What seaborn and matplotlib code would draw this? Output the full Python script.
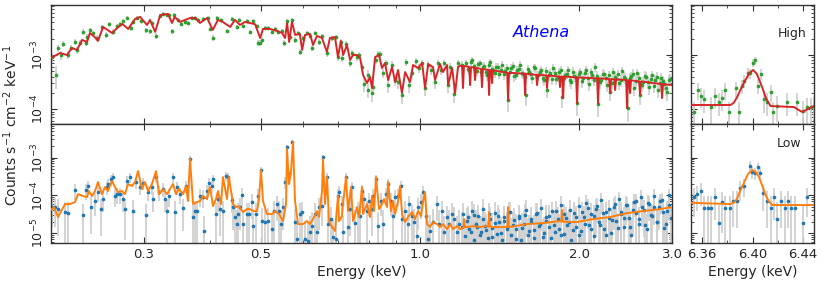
import matplotlib

matplotlib.use("Agg")
import matplotlib.pyplot as plt
import matplotlib.ticker as mticker
import numpy as np
import seaborn as sns

# ---- upper spectrum ("High"), flux in units of 1e-4 counts/s/cm2/keV ----
HI_MODEL_E = [
    0.200, 0.208, 0.2145, 0.219, 0.224, 0.229, 0.234, 0.237, 0.242, 0.2455,
    0.251, 0.256, 0.261, 0.267, 0.273, 0.280, 0.2885, 0.295, 0.304, 0.308,
    0.315, 0.322, 0.333, 0.339, 0.343, 0.351, 0.359, 0.367, 0.375, 0.383,
    0.395, 0.405, 0.414, 0.423, 0.437, 0.446, 0.456, 0.466, 0.476, 0.487,
    0.498, 0.504, 0.520, 0.536, 0.548, 0.555, 0.560, 0.565, 0.572, 0.580,
    0.592, 0.598, 0.6055, 0.619, 0.627, 0.638, 0.652, 0.666, 0.675, 0.690,
    0.699, 0.708, 0.715, 0.727, 0.737, 0.7465, 0.760, 0.770, 0.780, 0.7935,
    0.804, 0.811, 0.822, 0.836, 0.847, 0.858, 0.870, 0.885, 0.897, 0.9085,
    0.924, 0.937, 0.957, 0.970, 0.991, 1.009, 1.022, 1.036, 1.058, 1.0675,
    1.091, 1.105, 1.125, 1.130, 1.150, 1.165, 1.180, 1.196,
    1.201, 1.206, 1.211, 1.239, 1.244, 1.249, 1.266, 1.271, 1.276,
    1.305, 1.310, 1.315, 1.346, 1.351, 1.356, 1.364, 1.369, 1.374,
    1.462, 1.468, 1.474, 1.575, 1.581, 1.587, 1.659, 1.666, 1.673,
    1.733, 1.740, 1.747, 1.834, 1.841, 1.848, 1.859, 1.866, 1.873,
    1.975, 1.983, 1.991, 2.164, 2.173, 2.182, 2.281, 2.290, 2.299,
    2.332, 2.341, 2.350, 2.456, 2.466, 2.476, 2.489, 2.499, 2.509,
    2.600, 2.610, 2.620, 2.862, 2.873, 2.884, 3.000,
]
HI_MODEL_F = [
    8.80, 10.9, 10.0, 13.5, 12.4, 19.0, 17.4, 25.5, 21.5, 18.2,
    33.0, 29.0, 25.5, 31.6, 37.5, 30.3, 46.4, 50.6, 35.9, 44.5,
    26.7, 55.0, 57.4, 39.1, 50.6, 40.8, 44.5, 48.4, 48.4, 39.1,
    48.4, 29.0, 44.5, 40.8, 33.0, 44.5, 35.9, 40.8, 39.1, 37.0,
    20.6, 30.3, 30.3, 27.8, 25.5, 20.6, 39.1, 17.4, 40.8, 23.5,
    24.5, 12.4, 23.5, 24.5, 15.3, 22.5, 20.6, 11.4, 20.6, 21.5,
    9.18, 18.2, 10.0, 15.3, 8.08, 10.0, 10.0, 8.80, 4.26, 3.03,
    3.92, 2.45, 9.18, 10.0, 5.74, 7.11, 3.44, 6.00, 3.16, 5.27,
    1.98, 4.84, 3.16, 6.53, 5.74, 7.11, 2.45, 6.81, 6.00, 3.44,
    6.81, 4.84, 6.53, 2.78, 5.74, 1.98, 6.00, 6.40,
    6.3, 2.45, 6.3, 6.0, 2.78, 6.0, 5.8, 3.44, 5.8,
    5.5, 2.55, 5.5, 5.3, 1.82, 5.3, 5.2, 3.03, 5.2,
    4.7, 1.47, 4.7, 4.5, 1.82, 4.5, 4.3, 2.78, 4.3,
    4.2, 2.45, 4.2, 4.0, 2.55, 4.0, 4.0, 1.60, 4.0,
    3.85, 1.29, 3.85, 3.7, 1.29, 3.7, 3.6, 1.98, 3.6,
    3.55, 2.25, 3.55, 3.45, 1.04, 3.45, 3.4, 1.98, 3.4,
    3.25, 1.82, 3.25, 2.9, 1.60, 2.9, 2.78,
]
HI_E = [
    0.2009, 0.2044, 0.2062, 0.2089, 0.2107, 0.2154, 0.2182, 0.2221, 0.2240, 0.2270,
    0.2300, 0.2330, 0.2340, 0.2371, 0.2402, 0.2444, 0.2498, 0.2542, 0.2576, 0.2621,
    0.2667, 0.2702, 0.2738, 0.2786, 0.2835, 0.2860, 0.2910, 0.2961, 0.3027, 0.3080,
    0.3107, 0.3161, 0.3217, 0.3259, 0.3317, 0.3346, 0.3390, 0.3420, 0.3480, 0.3526,
    0.3588, 0.3635, 0.3699, 0.3748, 0.3797, 0.3881, 0.3966, 0.4001, 0.4054, 0.4125,
    0.4198, 0.4308, 0.4403, 0.4500, 0.4540, 0.4620, 0.4701, 0.4763, 0.4826, 0.4911,
    0.4932, 0.4976, 0.5020, 0.5086, 0.5152, 0.5243, 0.5312, 0.5382, 0.5477, 0.5525,
    0.5598, 0.5672, 0.5721, 0.5797, 0.5873, 0.5924, 0.6002, 0.6108, 0.6188, 0.6242,
    0.6324, 0.6436, 0.6521, 0.6664, 0.6811, 0.6931, 0.6992, 0.7084, 0.7115, 0.7240,
    0.7368, 0.7432, 0.7597, 0.7663, 0.7764, 0.7832, 0.7969, 0.7975, 0.8110, 0.8145,
    0.8252, 0.8324, 0.8397, 0.8507, 0.8619, 0.8697, 0.8850, 0.8966, 0.9085, 0.9244,
    0.9407, 0.9531, 0.9657, 0.9827, 0.9957, 1.0087, 1.0220, 1.0355, 1.0491, 1.0675,
    1.0816, 1.0958, 1.1103, 1.1298, 1.1397, 1.1599, 1.1802, 1.2010, 1.2220, 1.2381,
    1.2544, 1.2709, 1.2876, 1.3046, 1.3218, 1.3392, 1.3568, 1.3747, 1.3928, 1.4111,
    1.4297, 1.4485, 1.4676, 1.4869, 1.5065, 1.5263, 1.5464, 1.5668, 1.5874, 1.6083,
    1.6295, 1.6509, 1.6727, 1.6947, 1.7170, 1.7396, 1.7625, 1.7857, 1.8093, 1.8331,
    1.8572, 1.8817, 1.9064, 1.9315, 1.9570, 1.9827, 2.0088, 2.0353, 2.0621, 2.0892,
    2.1167, 2.1446, 2.1728, 2.2014, 2.2304, 2.2598, 2.2895, 2.3197, 2.3502, 2.3812,
    2.4125, 2.4443, 2.4765, 2.5091, 2.5421, 2.5756, 2.6095, 2.6439, 2.6787, 2.7140,
    2.7497, 2.7859, 2.8226, 2.8598, 2.8974, 2.9356, 2.9742,
    # dense band above 1.2 keV
    1.2300, 1.2462, 1.2626, 1.2792, 1.2961, 1.3132, 1.3305, 1.3480, 1.3657, 1.3837,
    1.4019, 1.4204, 1.4391, 1.4580, 1.4772, 1.4967, 1.5164, 1.5363, 1.5565, 1.5771,
    1.5978, 1.6189, 1.6402, 1.6617, 1.6837, 1.7058, 1.7283, 1.7510, 1.7741, 1.7974,
    1.8212, 1.8451, 1.8694, 1.8940, 1.9189, 1.9442, 1.9698, 1.9957, 2.0220, 2.0487,
    2.0756, 2.1029, 2.1306, 2.1587, 2.1871, 2.2158, 2.2450, 2.2746, 2.3045, 2.3349,
    2.3656, 2.3968, 2.4283, 2.4603, 2.4928, 2.5256, 2.5588, 2.5925, 2.6266, 2.6613,
    2.6963, 2.7318, 2.7677, 2.8042, 2.8411, 2.8786, 2.9164, 2.9549,
]
HI_F = [
    9.18, 4.26, 13.5, 10.0, 16.0, 10.0, 13.5, 17.4, 12.4, 16.7,
    26.7, 16.7, 21.5, 29.0, 25.5, 20.6, 33.0, 23.5, 37.5, 26.7,
    34.5, 37.5, 42.6, 48.4, 31.6, 40.8, 48.4, 42.6, 29.0, 27.8,
    39.1, 22.5, 52.7, 57.4, 55.0, 55.0, 27.8, 55.0, 44.5, 37.5,
    40.8, 39.1, 48.4, 48.4, 44.5, 46.4, 48.4, 30.3, 20.6, 48.4,
    44.5, 27.8, 46.4, 33.0, 44.5, 34.5, 42.6, 26.7, 42.6, 34.5,
    16.7, 16.7, 19.0, 31.6, 31.6, 26.7, 30.3, 26.7, 27.8, 16.7,
    42.6, 21.5, 44.5, 19.0, 25.5, 11.4, 20.6, 25.5, 22.5, 13.5,
    25.5, 17.4, 22.5, 10.9, 20.6, 21.5, 9.18, 17.4, 8.80, 16.0,
    7.11, 10.9, 9.18, 10.0, 6.00, 2.91, 4.26, 2.25, 1.98, 2.56,
    8.08, 10.4, 10.4, 4.64, 7.11, 2.78, 6.53, 3.45, 3.16, 1.82,
    7.42, 2.78, 4.64, 7.74, 5.75, 7.11, 2.45, 6.53, 5.28, 3.16,
    7.11, 5.28, 7.11, 2.78, 6.00, 1.90, 7.11, 6.53, 7.11, 5.28,
    8.08, 5.75, 6.81, 4.85, 6.26, 4.26, 7.42, 5.28, 6.00, 4.45,
    6.53, 5.06, 1.47, 5.75, 4.09, 5.28, 6.53, 4.45, 1.82, 4.85,
    3.75, 5.75, 4.26, 5.28, 3.45, 2.25, 4.64, 5.75, 3.60, 4.85,
    1.67, 4.26, 5.28, 3.16, 4.09, 1.29, 4.85, 3.75, 5.28, 2.91,
    4.26, 6.00, 1.24, 3.45, 4.45, 2.78, 2.07, 4.85, 3.60, 3.03,
    5.06, 3.75, 1.04, 4.09, 2.45, 4.64, 1.82, 3.16, 3.92, 2.56,
    4.26, 3.45, 2.25, 3.75, 2.91, 2.07, 3.60,
    5.6, 7.4, 6.2, 5.1, 7.0, 5.9, 4.8, 6.6, 5.5, 4.6,
    6.1, 5.3, 4.4, 5.8, 4.9, 6.3, 4.3, 5.5, 4.7, 3.9,
    5.4, 4.4, 5.9, 4.1, 4.8, 3.7, 5.0, 4.2, 3.6, 4.7,
    4.0, 5.3, 3.7, 4.5, 3.4, 4.9, 3.9, 4.4, 3.3, 4.6,
    3.8, 4.8, 3.5, 4.1, 3.2, 4.5, 3.7, 4.2, 3.1, 3.9,
    4.4, 3.4, 4.0, 3.0, 3.8, 4.5, 3.3, 3.7, 2.8, 4.1,
    3.2, 3.6, 2.7, 3.9, 3.0, 3.3, 2.5, 3.5,
]
HI_ERR = [  # percent
    18, 45, 15, 18, 14, 16, 14, 13, 15, 13,
    12, 14, 12, 11, 11, 12, 10, 12, 10, 11,
    10, 10, 9, 9, 11, 9, 9, 9, 11, 11,
    9, 12, 8, 8, 8, 8, 11, 8, 9, 9,
    9, 9, 8, 8, 8, 8, 8, 10, 12, 8,
    8, 10, 8, 9, 8, 9, 8, 10, 8, 9,
    12, 12, 11, 9, 9, 10, 9, 10, 10, 12,
    8, 11, 8, 11, 10, 14, 11, 10, 10, 13,
    10, 12, 10, 15, 11, 11, 16, 12, 16, 12,
    17, 14, 15, 14, 18, 28, 22, 30, 32, 28,
    15, 14, 14, 20, 16, 28, 17, 24, 25, 32,
    16, 28, 20, 15, 18, 16, 30, 17, 18, 25,
    16, 18, 16, 28, 17, 32, 16, 17, 16, 18,
    15, 18, 16, 19, 17, 21, 16, 18, 17, 20,
    17, 19, 40, 18, 21, 19, 17, 20, 36, 19,
    22, 18, 21, 19, 24, 30, 20, 18, 23, 19,
    38, 21, 19, 25, 21, 42, 19, 22, 19, 26,
    21, 18, 42, 24, 20, 27, 33, 19, 23, 26,
    19, 22, 45, 21, 29, 20, 34, 25, 22, 28,
    21, 24, 30, 22, 26, 32, 23,
    18, 16, 17, 19, 16, 18, 20, 17, 18, 20,
    18, 19, 21, 18, 20, 18, 21, 19, 20, 22,
    19, 21, 18, 22, 20, 23, 20, 22, 24, 21,
    22, 19, 24, 21, 25, 20, 23, 21, 25, 21,
    23, 21, 24, 22, 25, 21, 23, 22, 26, 23,
    21, 25, 23, 26, 23, 21, 25, 24, 27, 22,
    25, 24, 28, 23, 26, 25, 29, 24,
]

# ---- lower spectrum ("Low"), flux in units of 1e-5 counts/s/cm2/keV ----
LO_MODEL_E = [
    0.200, 0.2026, 0.2062, 0.2126, 0.2173, 0.2221, 0.2250, 0.2300, 0.2340, 0.2360,
    0.2392, 0.2423, 0.2455, 0.2498, 0.2531, 0.2564, 0.2609, 0.2644, 0.2679, 0.2726,
    0.2762, 0.2798, 0.2847, 0.2885, 0.2923, 0.2974, 0.3013, 0.3053, 0.3107, 0.3161,
    0.3203, 0.3259, 0.3317, 0.3361, 0.3405, 0.3450, 0.3495, 0.3557, 0.3604, 0.3635,
    0.3667, 0.3716, 0.3781, 0.3830, 0.3881, 0.3949, 0.4001, 0.4054, 0.4107, 0.4143,
    0.4198, 0.4234, 0.4308, 0.4346, 0.4423, 0.4481, 0.4540, 0.4620, 0.4701, 0.4763,
    0.4847, 0.4911, 0.4954, 0.4997, 0.5041, 0.5130, 0.5243, 0.5312, 0.5406, 0.5501,
    0.5574, 0.5598, 0.5647, 0.5696, 0.5746, 0.5797, 0.5873, 0.6002, 0.6108, 0.6188,
    0.6270, 0.6380, 0.6436, 0.6521, 0.6549, 0.6607, 0.6664, 0.6723, 0.6811, 0.6901,
    0.6992, 0.7022, 0.7115, 0.7146, 0.7240, 0.7304, 0.7400, 0.7465, 0.7597, 0.7663,
    0.7764, 0.7798, 0.7935, 0.8040, 0.8110, 0.8181, 0.8252, 0.8361, 0.8472, 0.8546,
    0.8659, 0.8697, 0.8811, 0.8889, 0.8966, 0.9085, 0.9165, 0.9244, 0.9366, 0.9489,
    0.9657, 0.9784, 0.9912, 1.0043, 1.0131, 1.0220, 1.0309, 1.0445, 1.0583, 1.0769,
    1.0911, 1.1054, 1.1249, 1.1397, 1.1547, 1.1751, 1.1906, 1.2080, 1.2116, 1.2150,
    1.2276, 1.2601, 1.2992, 1.3278, 1.3465, 1.3510, 1.3555, 1.3688, 1.4174, 1.4630,
    1.4678, 1.4725, 1.5945, 1.7096, 1.8412, 1.8520, 1.8573, 1.8625, 1.9829, 2.1265,
    2.2900, 2.4664, 2.6448, 2.8482, 3.000,
]
LO_MODEL_F = [
    4.08, 4.90, 2.67, 5.88, 5.88, 6.65, 10.8, 9.58, 9.01, 13.0,
    9.58, 13.0, 22.5, 10.8, 16.6, 13.0, 23.9, 16.6, 12.2, 13.0,
    10.8, 19.9, 17.6, 22.5, 43.9, 14.7, 22.5, 13.0, 19.9, 43.9,
    10.8, 14.7, 10.8, 14.7, 19.9, 10.8, 14.7, 10.8, 17.6, 7.06,
    91.2, 5.88, 6.65, 7.06, 9.58, 7.98, 16.6, 5.21, 7.98, 13.0,
    5.88, 30.5, 7.98, 30.5, 5.88, 4.90, 5.21, 3.61, 4.34, 4.34,
    3.84, 3.84, 7.98, 46.7, 7.06, 3.20, 3.20, 3.84, 3.20, 2.09,
    5.88, 168, 19.9, 41.3, 257, 7.06, 1.74, 1.74, 2.09, 1.74,
    2.36, 3.84, 2.67, 13.0, 91.2, 5.88, 30.5, 2.09, 1.45, 1.14,
    9.58, 2.09, 2.83, 5.88, 30.5, 3.84, 16.6, 2.09, 4.90, 2.67,
    16.6, 3.20, 5.88, 2.67, 9.58, 3.84, 30.5, 4.34, 5.88, 7.98,
    4.90, 22.5, 3.84, 7.06, 3.20, 7.06, 17.6, 3.20, 1.97, 2.67,
    3.61, 2.36, 3.84, 2.83, 6.65, 12.2, 1.74, 1.45, 1.97, 1.74,
    1.45, 1.74, 1.28, 1.74, 1.28, 1.54, 1.28, 1.40, 2.36, 1.45,
    1.45, 1.54, 1.45, 1.54, 1.50, 3.61, 1.50, 1.45, 1.45, 1.45,
    4.90, 1.45, 1.74, 1.85, 2.09, 2.05, 4.08, 2.00, 1.97, 2.36,
    2.67, 3.40, 3.84, 4.34, 4.90,
]
LO_E = [
    0.2009, 0.2035, 0.2062, 0.2126, 0.2154, 0.2221, 0.2300, 0.2330, 0.2350, 0.2382,
    0.2423, 0.2455, 0.2488, 0.2509, 0.2553, 0.2564, 0.2598, 0.2621, 0.2644, 0.2667,
    0.2702, 0.2738, 0.2762, 0.2786, 0.2823, 0.2860, 0.2898, 0.2948, 0.2987, 0.3027,
    0.3053, 0.3107, 0.3121, 0.3161, 0.3203, 0.3259, 0.3288, 0.3317, 0.3346, 0.3405,
    0.3434, 0.3465, 0.3510, 0.3557, 0.3604, 0.3667, 0.3716, 0.3748, 0.3781, 0.3830,
    0.3881, 0.3898, 0.3949, 0.3984, 0.4036, 0.4054, 0.4107, 0.4143, 0.4179, 0.4234,
    0.4290, 0.4328, 0.4404, 0.4423, 0.4462, 0.4501, 0.4520, 0.4560, 0.4600, 0.4620,
    0.4701, 0.4742, 0.4805, 0.4826, 0.4890, 0.4933, 0.4998, 0.5020, 0.5086, 0.5152,
    0.5243, 0.5289, 0.5359, 0.5406, 0.5453, 0.5501, 0.5549, 0.5598, 0.5647, 0.5721,
    0.5797, 0.5848, 0.5924, 0.5976, 0.6055, 0.6134, 0.6188, 0.6242, 0.6324, 0.6380,
    0.6436, 0.6521, 0.6549, 0.6664, 0.6694, 0.6782, 0.6841, 0.6931, 0.6992, 0.7022,
    0.7115, 0.7146, 0.7240, 0.7304, 0.7368, 0.7432, 0.7530, 0.7630, 0.7697, 0.7764,
    0.7832, 0.7935, 0.8005, 0.8110, 0.8145, 0.8252, 0.8324, 0.8434, 0.8507, 0.8620,
    0.8697, 0.8811, 0.8889, 0.8966, 0.9085, 0.9205, 0.9244, 0.9366, 0.9489, 0.9531,
    0.9657, 0.9741, 0.9870, 0.9912, 1.0044, 1.0131, 1.0264, 1.0355, 1.0446, 1.0583,
    1.0769, 1.0864, 1.1005, 1.1103, 1.1249, 1.1347, 1.1497, 1.1598, 1.1751, 1.1854,
    1.2010, 1.2061, 1.2167, 1.2273, 1.2381, 1.2544, 1.2654, 1.2765, 1.2876, 1.3046,
    1.3160, 1.3275, 1.3450, 1.3568, 1.3687, 1.3867, 1.3988, 1.4111, 1.4297, 1.4422,
    1.4612, 1.4740, 1.4869, 1.5065, 1.5197, 1.5397, 1.5532, 1.5736, 1.5874, 1.6083,
    1.6224, 1.6438, 1.6582, 1.6800, 1.6947, 1.7170, 1.7320, 1.7548, 1.7702, 1.7935,
    1.8092, 1.8331, 1.8491, 1.8735, 1.8899, 1.9147, 1.9315, 1.9569, 1.9741, 2.0001,
    2.0176, 2.0442, 2.0621, 2.0892, 2.1075, 2.1353, 2.1540, 2.1823, 2.2014, 2.2304,
    2.2499, 2.2796, 2.2995, 2.3298, 2.3502, 2.3812, 2.4020, 2.4337, 2.4550, 2.4873,
    2.5091, 2.5421, 2.5644, 2.5982, 2.6209, 2.6554, 2.6904, 2.7140, 2.7497, 2.7738,
    2.8103, 2.8349, 2.8722, 2.8974, 2.9356, 2.9613, 2.9872,
    # dense band above 1.2 keV
    1.2300, 1.2462, 1.2626, 1.2792, 1.2961, 1.3132, 1.3305, 1.3480, 1.3657, 1.3837,
    1.4019, 1.4204, 1.4391, 1.4580, 1.4772, 1.4967, 1.5164, 1.5363, 1.5565, 1.5771,
    1.5978, 1.6189, 1.6402, 1.6617, 1.6837, 1.7058, 1.7283, 1.7510, 1.7741, 1.7974,
    1.8212, 1.8451, 1.8694, 1.8940, 1.9189, 1.9442, 1.9698, 1.9957, 2.0220, 2.0487,
    2.0756, 2.1029, 2.1306, 2.1587, 2.1871, 2.2158, 2.2450, 2.2746, 2.3045, 2.3349,
    2.3656, 2.3968, 2.4283, 2.4603, 2.4928, 2.5256, 2.5588, 2.5925, 2.6266, 2.6613,
    2.6963, 2.7318, 2.7677, 2.8042, 2.8411, 2.8786, 2.9164, 2.9549,
]
LO_F = [
    4.90, 4.90, 4.34, 3.61, 3.40, 13.8, 3.01, 13.8, 17.6, 4.90,
    7.06, 12.2, 4.34, 7.98, 16.6, 19.9, 27.0, 30.5, 9.58, 10.8,
    10.8, 7.98, 4.34, 23.9, 30.5, 3.84, 22.5, 16.6, 21.2, 3.01,
    12.2, 16.6, 7.98, 30.5, 12.2, 14.7, 7.98, 3.84, 9.58, 30.5,
    3.61, 16.6, 10.8, 4.61, 17.6, 91.2, 2.67, 3.84, 3.84, 9.58,
    9.01, 1.14, 13.0, 21.2, 17.6, 27.0, 3.20, 7.98, 4.34, 3.84,
    32.4, 30.5, 7.51, 4.90, 2.67, 1.74, 3.20, 4.90, 10.2, 1.74,
    3.20, 3.20, 6.65, 1.54, 3.20, 9.58, 46.0, 2.09, 1.97, 2.09,
    1.28, 3.84, 5.88, 3.84, 1.74, 4.90, 22.5, 190, 36.6, 257,
    1.97, 0.70, 3.20, 3.61, 0.70, 0.62, 1.07, 1.54, 3.20, 1.07,
    4.90, 5.21, 103, 30.5, 1.74, 2.36, 0.79, 0.70, 9.58, 12.2,
    5.88, 1.07, 30.5, 1.45, 4.34, 16.6, 1.85, 3.61, 2.83, 13.0,
    7.98, 3.84, 7.06, 4.34, 9.58, 27.0, 1.54, 7.06, 1.74, 10.8,
    19.9, 7.06, 2.83, 9.01, 9.58, 17.6, 2.36, 3.84, 1.74, 5.88,
    2.83, 1.97, 0.84, 4.90, 6.65, 12.2, 2.83, 0.70, 1.14, 1.97,
    5.88, 1.74, 3.84, 1.07, 2.67, 1.74, 3.20, 2.36, 1.07, 1.74,
    1.45, 3.20, 0.84, 2.09, 1.28, 3.84, 0.66, 1.74, 2.83, 1.07,
    4.34, 1.54, 0.74, 2.36, 1.36, 3.40, 0.95, 1.97, 0.66, 2.67,
    1.45, 3.61, 0.89, 2.22, 1.28, 2.83, 0.66, 1.74, 4.08, 1.14,
    2.36, 0.74, 3.20, 1.54, 4.61, 1.01, 2.09, 2.83, 0.74, 1.64,
    3.84, 1.28, 5.54, 0.95, 2.51, 1.97, 0.66, 3.40, 1.45, 5.21,
    1.14, 2.67, 6.26, 1.64, 3.20, 0.84, 4.34, 1.97, 7.51, 1.28,
    3.61, 2.51, 1.01, 4.90, 2.09, 7.98, 3.20, 1.45, 5.54, 2.51,
    0.89, 6.65, 3.40, 1.74, 9.01, 4.08, 1.28, 5.88, 2.83, 9.58,
    1.97, 4.90, 7.51, 1.36, 3.84, 10.2, 2.51,
    2.6, 1.1, 3.0, 1.5, 0.9, 2.3, 1.2, 3.3, 0.8, 1.9,
    2.9, 1.0, 2.1, 1.3, 3.6, 1.6, 0.7, 2.5, 1.4, 3.1,
    0.9, 2.0, 1.2, 3.4, 1.7, 0.8, 2.7, 1.5, 3.8, 1.1,
    2.4, 0.9, 3.2, 1.6, 4.2, 1.2, 2.6, 0.9, 3.6, 1.8,
    4.6, 1.3, 2.9, 5.2, 1.6, 3.4, 0.9, 4.4, 2.2, 6.0,
    1.4, 3.7, 2.5, 5.6, 1.5, 4.0, 7.2, 2.3, 4.8, 1.6,
    6.4, 3.1, 5.0, 2.0, 6.9, 3.6, 1.8, 5.6,
]
LO_ERR = [  # percent
    70, 70, 80, 90, 100, 45, 100, 45, 40, 80,
    60, 45, 80, 55, 40, 35, 30, 30, 50, 45,
    45, 55, 85, 32, 30, 95, 33, 38, 33, 100,
    42, 38, 55, 30, 42, 40, 55, 95, 50, 30,
    95, 38, 45, 75, 36, 18, 110, 90, 90, 50,
    50, 150, 42, 33, 36, 30, 95, 55, 80, 90,
    28, 30, 55, 75, 110, 130, 95, 75, 50, 130,
    95, 95, 65, 140, 95, 50, 25, 120, 120, 120,
    150, 90, 65, 90, 130, 75, 33, 12, 26, 10,
    120, 200, 95, 90, 200, 200, 160, 140, 95, 160,
    75, 70, 16, 30, 130, 110, 190, 200, 50, 42,
    65, 160, 30, 150, 80, 38, 125, 90, 100, 42,
    55, 90, 60, 80, 50, 30, 140, 60, 130, 45,
    35, 60, 100, 50, 50, 36, 110, 90, 130, 65,
    100, 120, 180, 75, 65, 42, 100, 200, 160, 120,
    65, 130, 90, 160, 100, 130, 95, 110, 160, 130,
    150, 95, 180, 120, 150, 90, 200, 130, 100, 160,
    80, 140, 190, 110, 150, 95, 170, 120, 200, 100,
    150, 90, 180, 110, 150, 100, 200, 130, 80, 160,
    110, 190, 95, 140, 75, 170, 120, 100, 190, 140,
    90, 150, 70, 170, 100, 120, 200, 95, 150, 70,
    160, 100, 60, 140, 95, 180, 80, 120, 55, 150,
    90, 100, 170, 75, 120, 55, 95, 150, 70, 100,
    180, 60, 95, 130, 50, 80, 150, 65, 100, 50,
    120, 75, 55, 150, 90, 48, 100,
    100, 160, 95, 140, 180, 110, 150, 90, 190, 120,
    95, 170, 115, 145, 85, 130, 200, 100, 140, 90,
    180, 115, 150, 85, 125, 190, 100, 135, 80, 160,
    105, 180, 90, 130, 75, 150, 100, 180, 85, 125,
    72, 150, 95, 65, 130, 85, 180, 75, 110, 60,
    140, 82, 100, 62, 135, 78, 55, 110, 70, 130,
    58, 90, 68, 120, 55, 85, 125, 62,
]

# ---- Fe K zoom panels ----
FE_HI_MODEL_E = [6.351, 6.3824, 6.3850, 6.3878, 6.3910, 6.3944, 6.3975, 6.4005, 6.4035, 6.4064,
                 6.4085, 6.4104, 6.4124, 6.4144, 6.4331, 6.4365, 6.4398, 6.4451, 6.449]
FE_HI_MODEL_F = [1.19, 1.19, 1.30, 1.67, 2.45, 3.45, 4.64, 5.28, 4.45, 3.03,
                 2.25, 1.67, 1.35, 1.14, 1.09, 0.97, 0.88, 1.04, 1.14]
FE_HI_E = [6.3530, 6.3562, 6.3590, 6.3616, 6.3670, 6.3698, 6.3730, 6.3758, 6.3784, 6.3810,
           6.3866, 6.3890, 6.3918, 6.3936, 6.3962, 6.3978, 6.4000, 6.4022, 6.4042, 6.4064,
           6.4090, 6.4112, 6.4144, 6.4166, 6.4198, 6.4272, 6.4358, 6.4406, 6.4438, 6.4464,
           6.4490]
FE_HI_F = [0.89, 2.25, 1.76, 1.53, 1.10, 1.76, 1.36, 1.58, 2.25, 0.89,
           2.42, 0.89, 2.67, 3.30, 4.70, 4.58, 7.20, 8.08, 2.67, 4.45,
           1.51, 1.36, 2.09, 0.89, 1.14, 1.36, 1.36, 0.92, 1.07, 1.07,
           1.14]
FE_HI_ERR = [55, 35, 40, 45, 55, 40, 45, 42, 35, 55,
             33, 55, 30, 27, 22, 22, 17, 16, 30, 23,
             45, 45, 36, 55, 50, 45, 45, 55, 50, 50,
             48]

FE_LO_MODEL_E = [6.351, 6.3824, 6.3855, 6.3878, 6.3905, 6.3936, 6.3965, 6.3997, 6.4025, 6.4051,
                 6.4078, 6.4104, 6.4130, 6.4158, 6.449]
FE_LO_MODEL_F = [6.37, 5.88, 6.50, 8.34, 14.0, 22.9, 37.0, 46.7, 42.0, 31.0,
                 18.0, 10.2, 7.0, 5.54, 5.54]
FE_LO_E = [6.3530, 6.3558, 6.3590, 6.3616, 6.3642, 6.3670, 6.3698, 6.3730, 6.3758, 6.3784,
           6.3818, 6.3846, 6.3878, 6.3904, 6.3930, 6.3978, 6.3998, 6.4016, 6.4042, 6.4058,
           6.4082, 6.4112, 6.4144, 6.4170, 6.4198, 6.4230, 6.4258, 6.4282, 6.4310, 6.4336,
           6.4406, 6.4438]
FE_LO_F = [9.18, 10.8, 13.0, 4.53, 4.53, 4.53, 8.85, 1.88, 6.78, 4.53,
           4.53, 7.20, 7.06, 15.3, 17.9, 60.7, 40.5, 39.6, 55.1, 39.6,
           11.3, 7.06, 4.53, 8.85, 2.32, 7.06, 4.53, 7.06, 4.53, 4.53,
           1.88, 9.18]
FE_LO_ERR = [70, 65, 60, 110, 110, 110, 75, 200, 85, 110,
             110, 80, 80, 55, 50, 30, 35, 35, 30, 35,
             65, 80, 110, 75, 180, 80, 110, 80, 110, 110,
             200, 70]

X_TICKS = [0.3, 0.5, 1.0, 2.0, 3.0]
X_MINOR = [0.2, 0.4, 0.6, 0.7, 0.8, 0.9]
FE_TICKS = [6.36, 6.40, 6.44]
FE_MINOR = [6.38, 6.42]

COLORS = {
    "hi_data": "#2ca02c",
    "hi_model": "#d62728",
    "lo_data": "#1f77b4",
    "lo_model": "#ff7f0e",
}
ERR_COLOR = "#d0d0d0"
SPINE_COLOR = "#333333"


def draw_spectrum(ax, e, f, err, model_e, model_f, unit, data_color, model_color):
    assert len(e) == len(f) == len(err)
    assert len(model_e) == len(model_f)
    e = np.asarray(e)
    f = np.asarray(f) * unit
    yerr = f * np.asarray(err) / 100.0
    ax.errorbar(e, f, yerr=yerr, fmt="none", ecolor=ERR_COLOR, elinewidth=1.3, zorder=1)
    sns.scatterplot(x=e, y=f, ax=ax, color=data_color, s=7, linewidth=0, zorder=2)
    sns.lineplot(
        x=np.asarray(model_e),
        y=np.asarray(model_f) * unit,
        ax=ax,
        color=model_color,
        lw=1.4,
        sort=False,
        estimator=None,
        zorder=3,
    )


def style_axes(ax):
    ax.tick_params(which="both", direction="in", top=True, right=True,
                   color=SPINE_COLOR, labelsize=9.5)
    ax.tick_params(which="major", length=4, width=0.8)
    ax.tick_params(which="minor", length=2, width=0.6)
    ax.tick_params(axis="y", labelrotation=90, labelsize=9)
    for s in ax.spines.values():
        s.set_color(SPINE_COLOR)
        s.set_linewidth(1.0)


def main():
    sns.set_theme(style="ticks")
    plt.rcParams["font.family"] = ["DejaVu Sans"]

    fig = plt.figure(figsize=(8.22, 2.81), dpi=100)
    W, H = 822.0, 281.0
    ax_hi = fig.add_axes([51 / W, 1 - 124 / H, 621 / W, 119 / H])
    ax_lo = fig.add_axes([51 / W, 1 - 243 / H, 621 / W, 119 / H], sharex=ax_hi)
    ax_fe_hi = fig.add_axes([691 / W, 1 - 124 / H, 123 / W, 119 / H], sharey=ax_hi)
    ax_fe_lo = fig.add_axes([691 / W, 1 - 243 / H, 123 / W, 119 / H],
                            sharex=ax_fe_hi, sharey=ax_lo)

    for ax in (ax_hi, ax_lo):
        ax.set_xscale("log")
    for ax in (ax_hi, ax_lo, ax_fe_hi, ax_fe_lo):
        ax.set_yscale("log")

    draw_spectrum(ax_hi, HI_E, HI_F, HI_ERR, HI_MODEL_E, HI_MODEL_F, 1e-4,
                  COLORS["hi_data"], COLORS["hi_model"])
    draw_spectrum(ax_lo, LO_E, LO_F, LO_ERR, LO_MODEL_E, LO_MODEL_F, 1e-5,
                  COLORS["lo_data"], COLORS["lo_model"])
    draw_spectrum(ax_fe_hi, FE_HI_E, FE_HI_F, FE_HI_ERR, FE_HI_MODEL_E, FE_HI_MODEL_F, 1e-4,
                  COLORS["hi_data"], COLORS["hi_model"])
    draw_spectrum(ax_fe_lo, FE_LO_E, FE_LO_F, FE_LO_ERR, FE_LO_MODEL_E, FE_LO_MODEL_F, 1e-5,
                  COLORS["lo_data"], COLORS["lo_model"])

    ax_hi.set_xlim(0.2, 3.0)
    ax_hi.set_ylim(5.3e-5, 8.4e-3)
    ax_lo.set_ylim(5.5e-6, 7.7e-3)
    ax_fe_hi.set_xlim(6.351, 6.449)

    for ax in (ax_hi, ax_lo):
        ax.xaxis.set_major_locator(mticker.FixedLocator(X_TICKS))
        ax.xaxis.set_minor_locator(mticker.FixedLocator(X_MINOR))
        ax.xaxis.set_major_formatter(mticker.FormatStrFormatter("%.1f"))
        ax.xaxis.set_minor_formatter(mticker.NullFormatter())
    for ax in (ax_fe_hi, ax_fe_lo):
        ax.xaxis.set_major_locator(mticker.FixedLocator(FE_TICKS))
        ax.xaxis.set_minor_locator(mticker.FixedLocator(FE_MINOR))
        ax.xaxis.set_major_formatter(mticker.FormatStrFormatter("%.2f"))
    for ax in (ax_hi, ax_lo, ax_fe_hi, ax_fe_lo):
        ax.yaxis.set_major_locator(mticker.LogLocator(base=10))
        ax.yaxis.set_minor_locator(mticker.LogLocator(base=10, subs=np.arange(2, 10)))
        ax.yaxis.set_minor_formatter(mticker.NullFormatter())
        ax.set_xlabel("")
        ax.set_ylabel("")
        style_axes(ax)

    ax_hi.tick_params(labelbottom=False)
    ax_fe_hi.tick_params(labelbottom=False, labelleft=False)
    ax_fe_lo.tick_params(labelleft=False)

    # rotated decade labels centred on their ticks
    for ax in (ax_hi, ax_lo):
        for lbl in ax.get_yticklabels():
            lbl.set_verticalalignment("center")

    ax_hi.text(0.79, 0.77, "Athena", transform=ax_hi.transAxes, color="blue",
               style="italic", fontsize=11.5, ha="center", va="center")
    ax_fe_hi.text(0.82, 0.76, "High", transform=ax_fe_hi.transAxes,
                  fontsize=9, ha="center", va="center")
    ax_fe_lo.text(0.80, 0.84, "Low", transform=ax_fe_lo.transAxes,
                  fontsize=9, ha="center", va="center")

    ax_lo.set_xlabel("Energy (keV)", fontsize=10, labelpad=3)
    ax_fe_lo.set_xlabel("Energy (keV)", fontsize=10, labelpad=3)
    fig.text(0.013, 0.555, r"Counts s$^{-1}$ cm$^{-2}$ keV$^{-1}$", rotation=90,
             ha="center", va="center", fontsize=10)

    fig.savefig("out.png", dpi=100)


if __name__ == "__main__":
    main()
